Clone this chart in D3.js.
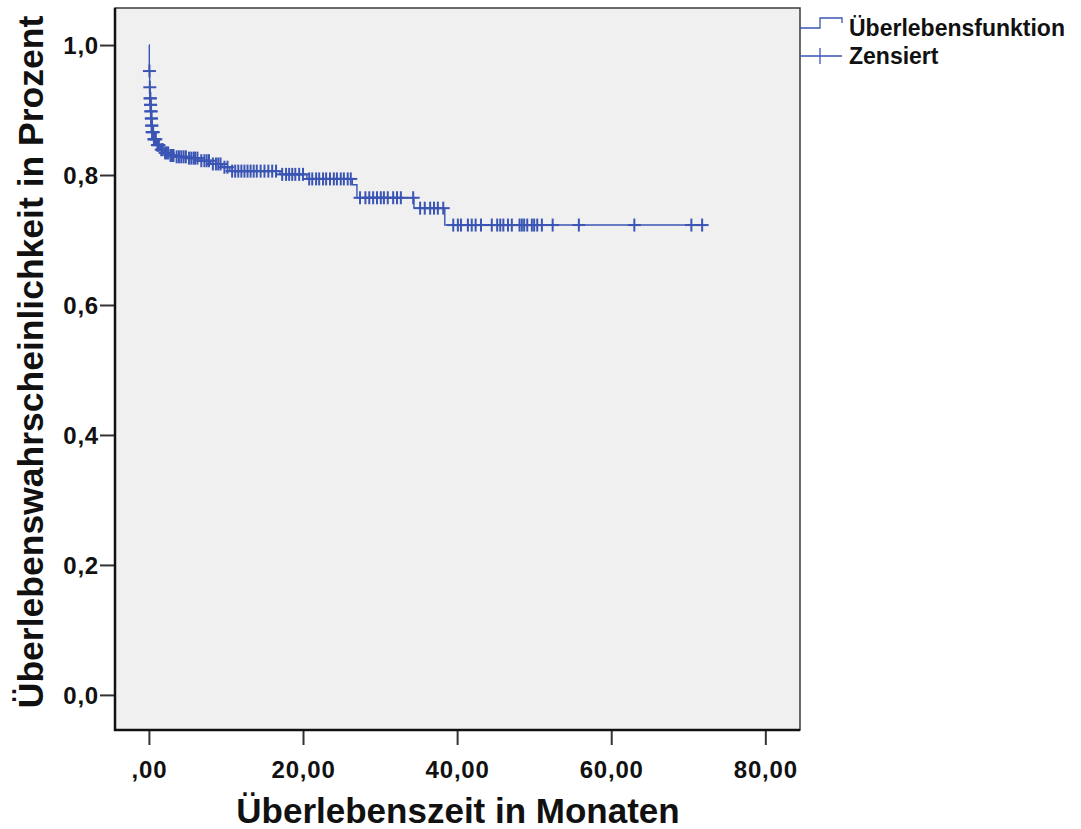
<!DOCTYPE html>
<html>
<head>
<meta charset="utf-8">
<script src="https://cdn.jsdelivr.net/npm/d3@7"></script>
<style>
  html, body { margin: 0; padding: 0; background: #ffffff; }
  svg { display: block; font-family: "Liberation Sans", Arial, sans-serif; }
</style>
</head>
<body>
<svg id="chart" width="1081" height="829"></svg>
<script>
// Kaplan-Meier estimate: event times (months) and survival after each step
const stepTimes = [0, 0.05, 0.1, 0.15, 0.2, 0.25, 0.3, 0.35, 0.4, 0.6, 1.0, 1.5, 2.0, 2.6, 3.5, 5.0, 6.5, 8.0, 9.5, 10.5, 17.0, 20.5, 26.4, 27.0, 34.4, 38.4];
const stepSurv  = [1.0, 0.96, 0.935, 0.918, 0.908, 0.898, 0.887, 0.876, 0.866, 0.855, 0.846, 0.839, 0.834, 0.830, 0.828, 0.826, 0.822, 0.817, 0.812, 0.806, 0.801, 0.794, 0.785, 0.765, 0.749, 0.723];

// Censored observations (months)
const censorTimes = [
  0.07, 0.12, 0.16, 0.18, 0.21, 0.23, 0.26, 0.28, 0.31, 0.33, 0.36, 0.38, 0.42, 0.45, 0.5, 0.55, 0.65, 0.7, 0.8, 0.9, 1.1, 1.2, 1.3, 1.6, 1.8,
  2.1, 2.3, 2.5, 2.8, 3.0, 3.2, 3.6, 3.9, 4.2, 4.5, 4.8, 5.2, 5.5, 5.8, 6.0, 6.3, 6.8, 7.2, 7.5, 7.8,
  8.3, 8.7, 9.0, 9.3, 9.8, 10.2, 10.8, 11.2, 11.6, 12.0, 12.4, 12.8, 13.2, 13.6, 14.0, 14.5, 15.0,
  15.5, 16.0, 16.5, 17.3, 17.8, 18.2, 18.6, 19.0, 19.5, 20.0, 20.8, 21.2, 21.7, 22.1, 22.6, 23.0,
  23.5, 24.0, 24.4, 24.9, 25.3, 25.8, 26.2,
  27.4, 28.1, 28.6, 29.1, 29.6, 30.1, 30.5, 31.0, 31.7, 32.2, 32.7, 34.3,
  35.2, 35.8, 36.5, 37.0, 37.5, 38.2,
  39.5, 40.1, 40.5, 41.4, 41.9, 42.4, 43.1, 44.5, 45.2, 45.6, 46.0, 46.6, 47.1, 48.1, 48.4, 48.7,
  49.1, 49.7, 50.0, 50.4, 51.0, 52.4, 55.8, 63.0, 70.4, 71.8
];

const xTicks = [0, 20, 40, 60, 80];
const yTicks = [0, 0.2, 0.4, 0.6, 0.8, 1.0];

const xTitle = "Überlebenszeit in Monaten";
const yTitle = "Überlebenswahrscheinlichkeit in Prozent";
const legendLabels = ["Überlebensfunktion", "Zensiert"];

const lineColor = "#3a55b4";
const frame = { left: 115, right: 800, top: 8, bottom: 730 };

const svg = d3.select("#chart");

const x = d3.scaleLinear().domain([-4.4, 84.5]).range([frame.left, frame.right]);
const y = d3.scaleLinear().domain([-0.054, 1.057]).range([frame.bottom, frame.top]);

// plot background with thin top/right border
svg.append("rect")
  .attr("x", frame.left).attr("y", frame.top)
  .attr("width", frame.right - frame.left).attr("height", frame.bottom - frame.top)
  .attr("fill", "#f0f0f0")
  .attr("stroke", "#3a3a3a").attr("stroke-width", 1.5);

// axes
const fmtX = d => d === 0 ? ",00" : d.toFixed(2).replace(".", ",");
const fmtY = d => d.toFixed(1).replace(".", ",");

const xAxis = svg.append("g")
  .attr("transform", `translate(0,${frame.bottom})`)
  .call(d3.axisBottom(x).tickValues(xTicks).tickFormat(fmtX).tickSizeOuter(0).tickSize(15).tickPadding(16));
const yAxis = svg.append("g")
  .attr("transform", `translate(${frame.left},0)`)
  .call(d3.axisLeft(y).tickValues(yTicks).tickFormat(fmtY).tickSizeOuter(0).tickSize(15).tickPadding(1));

[xAxis, yAxis].forEach(g => {
  g.select(".domain").remove();
  g.selectAll(".tick line").attr("stroke", "#333").attr("stroke-width", 2);
  g.selectAll(".tick text")
    .attr("fill", "#111")
    .style("font-size", "24px")
    .style("font-weight", "bold")
    .style("letter-spacing", "0.8px");
});
yAxis.selectAll(".tick text").attr("dy", "0.36em");

// heavier left and bottom axis lines
svg.append("path")
  .attr("d", `M${frame.left},${frame.top} V${frame.bottom} H${frame.right}`)
  .attr("fill", "none").attr("stroke", "#111").attr("stroke-width", 2.5);

// survival step curve
const survAt = t => {
  let s = stepSurv[0];
  for (let i = 0; i < stepTimes.length; i++) if (stepTimes[i] <= t) s = stepSurv[i];
  return s;
};
const lastTime = d3.max(censorTimes);
const pts = stepTimes.map((t, i) => [t, stepSurv[i]]);
pts.push([lastTime, stepSurv[stepSurv.length - 1]]);

svg.append("path")
  .datum(pts)
  .attr("fill", "none")
  .attr("stroke", lineColor)
  .attr("stroke-width", 1.4)
  .attr("d", d3.line().x(d => x(d[0])).y(d => y(d[1])).curve(d3.curveStepAfter));

// censor marks
const arm = 6.5;
const marks = svg.append("g").attr("stroke", lineColor).attr("stroke-width", 2);
censorTimes.forEach(t => {
  const cx = x(t), cy = y(survAt(t));
  marks.append("line").attr("x1", cx).attr("x2", cx).attr("y1", cy - arm).attr("y2", cy + arm);
  marks.append("line").attr("x1", cx - arm).attr("x2", cx + arm).attr("y1", cy).attr("y2", cy);
});

// titles
svg.append("text")
  .attr("x", 458).attr("y", 823)
  .attr("text-anchor", "middle")
  .style("font-size", "35px").style("font-weight", "bold").attr("fill", "#111")
  .text(xTitle);

svg.append("text")
  .attr("transform", `translate(43,362) rotate(-90)`)
  .attr("text-anchor", "middle")
  .style("font-size", "35.5px").style("font-weight", "bold").attr("fill", "#111")
  .text(yTitle);

// legend
const lg = svg.append("g");
lg.append("path")
  .attr("d", "M800,28 H820 V18 H842 V23")
  .attr("fill", "none").attr("stroke", lineColor).attr("stroke-width", 1.3);
lg.append("line").attr("x1", 800).attr("x2", 842).attr("y1", 56).attr("y2", 56)
  .attr("stroke", lineColor).attr("stroke-width", 1.3);
lg.append("line").attr("x1", 820).attr("x2", 820).attr("y1", 48).attr("y2", 64)
  .attr("stroke", lineColor).attr("stroke-width", 1.3);
lg.selectAll("text.leg")
  .data(legendLabels)
  .enter().append("text")
  .attr("class", "leg")
  .attr("x", 849)
  .attr("y", (d, i) => 36 + i * 28)
  .style("font-size", "23px").style("font-weight", "bold").attr("fill", "#111")
  .text(d => d);
</script>
</body>
</html>
